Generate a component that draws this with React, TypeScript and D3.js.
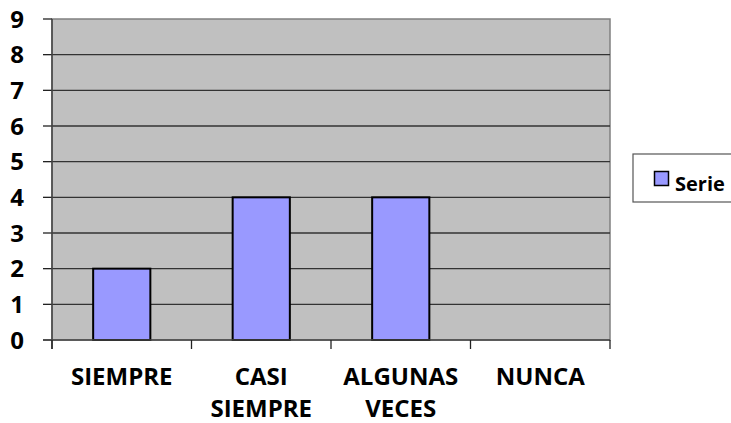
import React from "react";
import * as d3 from "d3";

const categories: string[][] = [["SIEMPRE"], ["CASI", "SIEMPRE"], ["ALGUNAS", "VECES"], ["NUNCA"]];
const values: number[] = [2, 4, 4, 0];
const yTicks: number[] = [0, 1, 2, 3, 4, 5, 6, 7, 8, 9];
const seriesName = "Serie";

const W = 731, H = 423;
const plot = { left: 52, right: 610, top: 19, bottom: 340 };
const FONT = "'Open Sans', sans-serif";

export default function App() {
  const keys = categories.map((c) => c.join(" "));
  const x = d3.scaleBand<string>().domain(keys).range([plot.left, plot.right]).paddingInner(0).paddingOuter(0);
  const y = d3.scaleLinear().domain([0, 9]).range([plot.bottom, plot.top]);
  const bw = x.bandwidth() * 0.41;
  const edges = keys.map((k) => x(k)!).concat([plot.right]);

  return (
    <svg width={W} height={H} style={{ position: "absolute", left: 0, top: 0, background: "#fff" }}>
      <rect x={plot.left} y={plot.top} width={plot.right - plot.left} height={plot.bottom - plot.top} fill="#C0C0C0" stroke="#808080" strokeWidth={1.5} />
      {yTicks.map((t) => (
        <g key={t}>
          {t > 0 && t < 9 && (
            <line x1={plot.left} x2={plot.right} y1={y(t)} y2={y(t)} stroke="#333" strokeWidth={1.3} />
          )}
          <line x1={plot.left - 9} x2={plot.left} y1={y(t)} y2={y(t)} stroke="#222" strokeWidth={1.3} />
          <text x={24} y={y(t)} dy="0.36em" textAnchor="end" fontFamily={FONT} fontWeight={700} fontSize={24} fill="#000">
            {t}
          </text>
        </g>
      ))}
      {values.map((v, i) =>
        v > 0 ? (
          <rect
            key={i}
            x={x(keys[i])! + (x.bandwidth() - bw) / 2}
            y={y(v)}
            width={bw}
            height={y(0) - y(v)}
            fill="#9999FF"
            stroke="#000"
            strokeWidth={2}
          />
        ) : null
      )}
      <line x1={plot.left} x2={plot.left} y1={plot.top} y2={plot.bottom + 9} stroke="#444" strokeWidth={1.5} />
      <line x1={plot.left - 9} x2={plot.right} y1={plot.bottom} y2={plot.bottom} stroke="#444" strokeWidth={1.5} />
      {edges.map((e, i) => (
        <line key={i} x1={e} x2={e} y1={plot.bottom} y2={plot.bottom + 9} stroke="#222" strokeWidth={1.3} />
      ))}
      {categories.map((lines, i) => (
        <text key={i} textAnchor="middle" fontFamily={FONT} fontWeight={700} fontSize={24} fill="#000">
          {lines.map((ln, j) => (
            <tspan key={j} x={x(keys[i])! + x.bandwidth() / 2} y={385 + j * 32}>
              {ln}
            </tspan>
          ))}
        </text>
      ))}
      <rect x={633} y={154} width={110} height={48} fill="#fff" stroke="#555" strokeWidth={1.2} />
      <rect x={654.5} y={171.5} width={14} height={14} fill="#9999FF" stroke="#000" strokeWidth={1.5} />
      <text x={675} y={184} dy="0.34em" fontFamily={FONT} fontWeight={700} fontSize={20} fill="#000">
        {seriesName}
      </text>
    </svg>
  );
}
